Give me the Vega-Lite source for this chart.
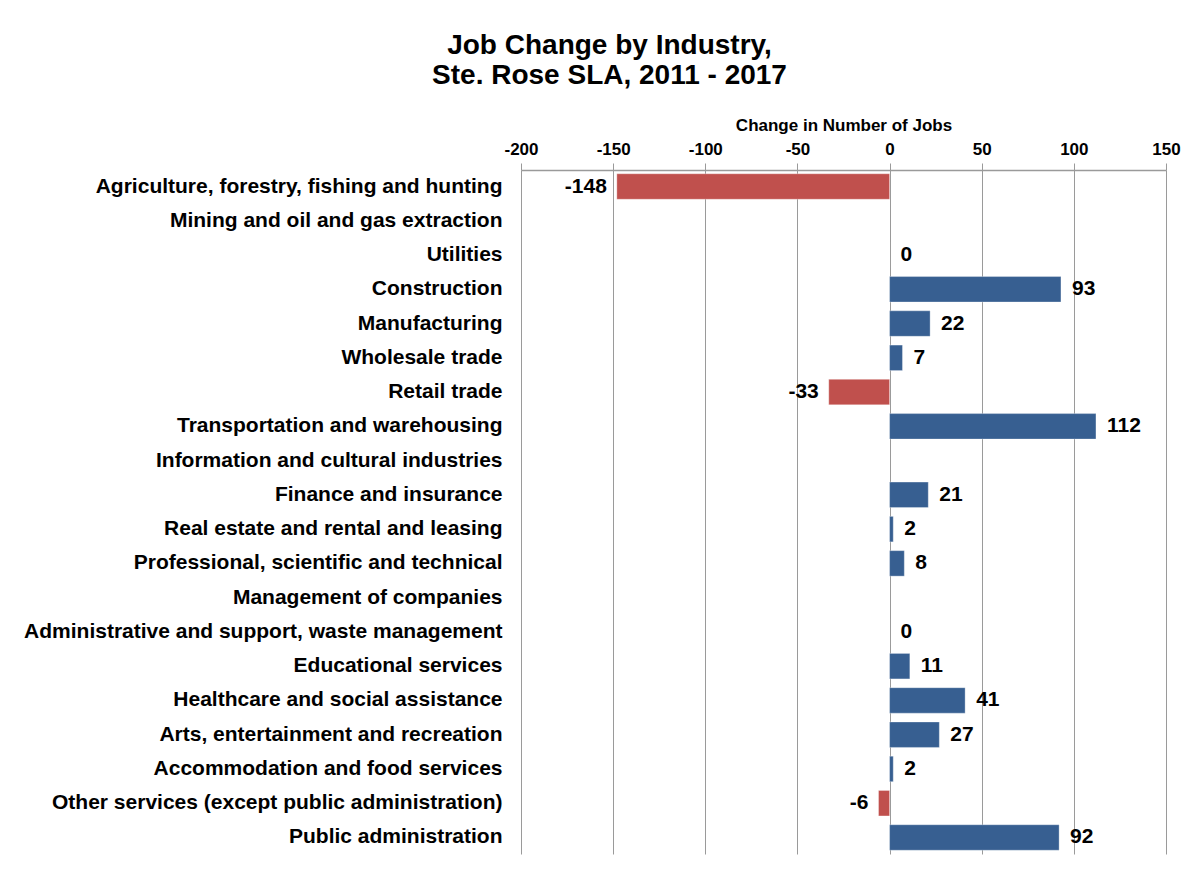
{
  "$schema": "https://vega.github.io/schema/vega-lite/v6.json",
  "autosize": {"type": "none"},
  "padding": {"left": 521, "top": 170, "right": 22, "bottom": 15},
  "width": 645,
  "height": 684,
  "background": "white",
  "title": {
    "text": ["Job Change by Industry,", "Ste. Rose SLA, 2011 - 2017"],
    "font": "Liberation Sans",
    "fontSize": 28,
    "fontWeight": "bold",
    "color": "black",
    "anchor": "middle",
    "frame": "group",
    "dx": -234,
    "offset": 26,
    "lineHeight": 30
  },
  "config": {
    "view": {"stroke": null},
    "locale": {"number": {"decimal": ".", "thousands": ",", "grouping": [3], "currency": ["$", ""], "minus": "-"}}
  },
  "data": {
    "values": [
      {"industry": "Agriculture, forestry, fishing and hunting", "change": -148},
      {"industry": "Mining and oil and gas extraction", "change": null},
      {"industry": "Utilities", "change": 0},
      {"industry": "Construction", "change": 93},
      {"industry": "Manufacturing", "change": 22},
      {"industry": "Wholesale trade", "change": 7},
      {"industry": "Retail trade", "change": -33},
      {"industry": "Transportation and warehousing", "change": 112},
      {"industry": "Information and cultural industries", "change": null},
      {"industry": "Finance and insurance", "change": 21},
      {"industry": "Real estate and rental and leasing", "change": 2},
      {"industry": "Professional, scientific and technical\u00a0", "change": 8},
      {"industry": "Management of companies\u00a0", "change": null},
      {"industry": "Administrative and support, waste management\u00a0", "change": 0},
      {"industry": "Educational services", "change": 11},
      {"industry": "Healthcare and social assistance", "change": 41},
      {"industry": "Arts, entertainment and recreation", "change": 27},
      {"industry": "Accommodation and food services", "change": 2},
      {"industry": "Other services (except public administration)", "change": -6},
      {"industry": "Public administration", "change": 92}
    ]
  },
  "encoding": {
    "y": {
      "field": "industry",
      "type": "nominal",
      "sort": null,
      "scale": {
        "domain": [
          "Agriculture, forestry, fishing and hunting",
          "Mining and oil and gas extraction",
          "Utilities",
          "Construction",
          "Manufacturing",
          "Wholesale trade",
          "Retail trade",
          "Transportation and warehousing",
          "Information and cultural industries",
          "Finance and insurance",
          "Real estate and rental and leasing",
          "Professional, scientific and technical\u00a0",
          "Management of companies\u00a0",
          "Administrative and support, waste management\u00a0",
          "Educational services",
          "Healthcare and social assistance",
          "Arts, entertainment and recreation",
          "Accommodation and food services",
          "Other services (except public administration)",
          "Public administration"
        ],
        "paddingInner": 0.256,
        "paddingOuter": 0.11
      },
      "axis": {
        "title": null,
        "domain": false,
        "ticks": false,
        "labelPadding": 19,
        "labelFont": "Liberation Sans",
        "labelFontSize": 21,
        "labelFontWeight": "bold",
        "labelColor": "black",
        "labelLimit": 700
      }
    },
    "x": {
      "field": "change",
      "type": "quantitative",
      "scale": {"domain": [-200, 150], "nice": false, "zero": false},
      "axis": {
        "orient": "top",
        "title": "Change in Number of Jobs",
        "titleFont": "Liberation Sans",
        "titleFontSize": 17,
        "titleFontWeight": "bold",
        "titleColor": "black",
        "titlePadding": 6,
        "values": [-200, -150, -100, -50, 0, 50, 100, 150],
        "format": "d",
        "labelFlush": false,
        "labelOverlap": false,
        "labelFont": "Liberation Sans",
        "labelFontSize": 17,
        "labelFontWeight": "bold",
        "labelColor": "black",
        "labelPadding": 5,
        "domainColor": "#9a9a9a",
        "domainWidth": 1.5,
        "tickColor": "#9a9a9a",
        "tickSize": 7,
        "gridColor": "#9a9a9a",
        "grid": true
      }
    }
  },
  "layer": [
    {
      "mark": {"type": "bar", "stroke": "white", "strokeOpacity": 0.4, "strokeWidth": 0.8},
      "transform": [{"filter": "isValid(datum.change)"}],
      "encoding": {
        "x2": {"datum": 0},
        "color": {
          "condition": {"test": "datum.change < 0", "value": "#C0504D"},
          "value": "#375F91"
        }
      }
    },
    {
      "mark": {"type": "text", "align": "left", "dx": 11, "font": "Liberation Sans", "fontSize": 21, "fontWeight": "bold", "color": "black"},
      "transform": [{"filter": "isValid(datum.change) && datum.change >= 0"}],
      "encoding": {"text": {"field": "change", "type": "quantitative", "format": "d"}}
    },
    {
      "mark": {"type": "text", "align": "right", "dx": -10, "font": "Liberation Sans", "fontSize": 21, "fontWeight": "bold", "color": "black"},
      "transform": [{"filter": "isValid(datum.change) && datum.change < 0"}],
      "encoding": {"text": {"field": "change", "type": "quantitative", "format": "d"}}
    }
  ]
}
